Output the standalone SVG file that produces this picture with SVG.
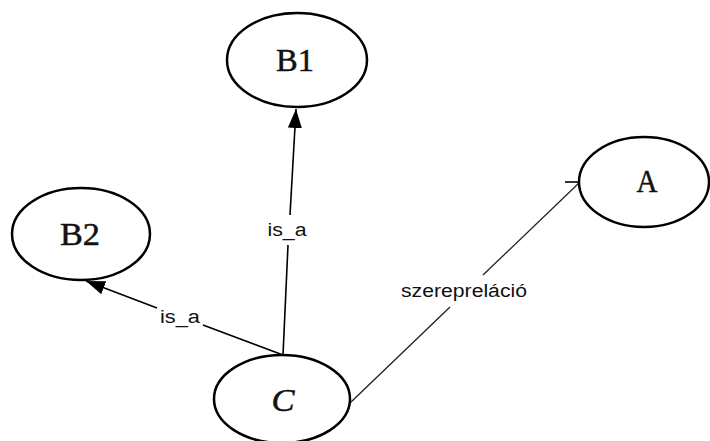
<svg xmlns="http://www.w3.org/2000/svg" width="710" height="441" viewBox="0 0 710 441">
<style>
.node{fill:#fff;stroke:#000;stroke-width:2.5}
.nl{font-family:"Liberation Serif",serif;font-size:31px;text-anchor:middle;fill:#111;stroke:#111;stroke-width:0.5}
.el{font-family:"Liberation Sans",Arial,sans-serif;font-size:18px;text-anchor:middle;fill:#111}
.edge{fill:none;stroke:#000;stroke-width:1.6}
.thin{fill:none;stroke:#222;stroke-width:1.3}
</style>
<defs>
<marker id="tri" markerUnits="userSpaceOnUse" markerWidth="20" markerHeight="16" refX="19" refY="7" orient="auto" viewBox="0 0 20 14">
<path d="M0,0 L19,7 L0,14 Z" fill="#000"/>
</marker>
</defs>
<rect width="710" height="441" fill="#fff"/>
<g id="connectors">
<g id="e-c-b1">
<path class="edge" d="M283,355 L288,245"/>
<path class="edge" d="M290,215 L296,109" marker-end="url(#tri)"/>
<text class="el" x="287" y="236" textLength="39" lengthAdjust="spacingAndGlyphs">is_a</text>
</g>
<g id="e-c-b2">
<path class="edge" d="M283,355 L203,325"/>
<path class="edge" d="M157,308 L86,281" marker-end="url(#tri)"/>
<text class="el" x="180" y="323" textLength="40" lengthAdjust="spacingAndGlyphs">is_a</text>
</g>
<g id="e-c-a">
<path class="thin" d="M350,403 L450,307"/>
<path class="thin" d="M483,275 L580,182"/>
<path class="edge" d="M565,182 L581,182"/>
<text class="el" x="464" y="297" textLength="126" lengthAdjust="spacingAndGlyphs">szerepreláció</text>
</g>
</g>
<g id="B1">
<ellipse class="node" cx="297" cy="60" rx="70" ry="47"/>
<text class="nl" x="295" y="71" textLength="38" lengthAdjust="spacingAndGlyphs">B1</text>
</g>
<g id="B2">
<ellipse class="node" cx="81" cy="234" rx="69" ry="46"/>
<text class="nl" x="80" y="245" textLength="40" lengthAdjust="spacingAndGlyphs">B2</text>
</g>
<g id="A">
<ellipse class="node" cx="644" cy="182" rx="65" ry="45"/>
<text class="nl" x="647" y="192" textLength="21" lengthAdjust="spacingAndGlyphs">A</text>
</g>
<g id="C">
<ellipse class="node" cx="282" cy="399" rx="68" ry="44" stroke-width="2"/>
<text class="nl" x="283" y="411" font-style="italic" textLength="23" lengthAdjust="spacingAndGlyphs">C</text>
</g>
</svg>
